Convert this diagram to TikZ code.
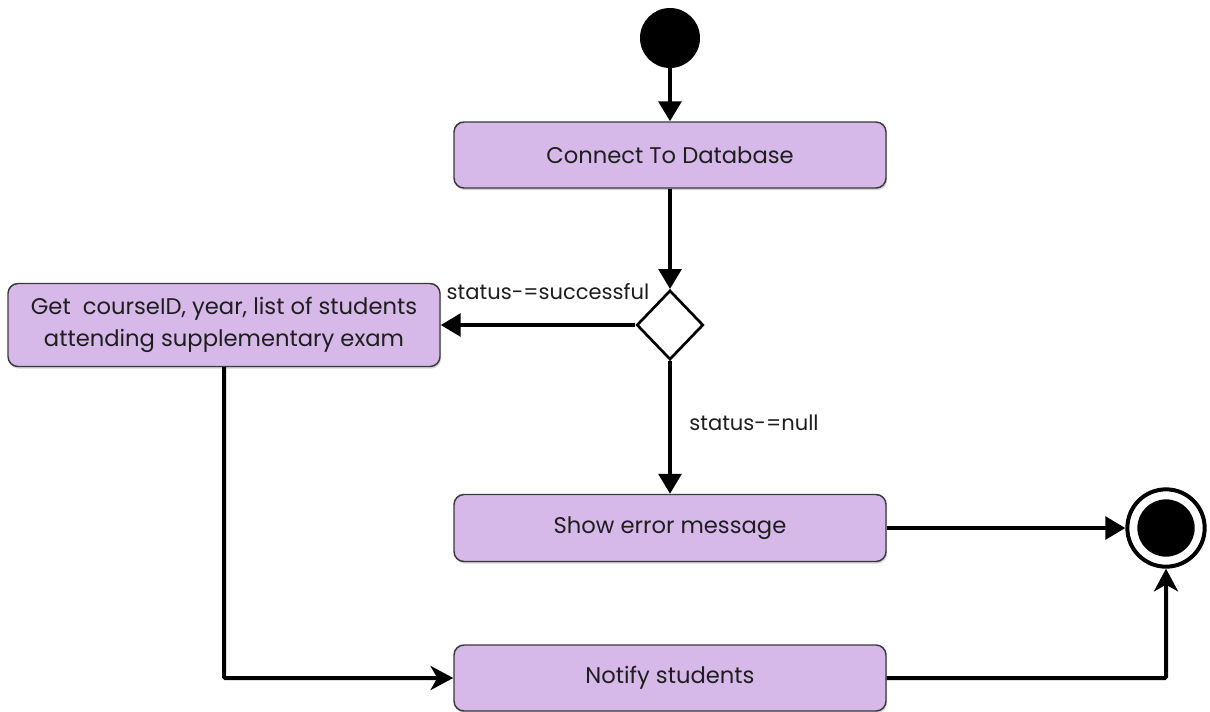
\documentclass[tikz,border=0pt]{standalone}
\usepackage{fontspec}
\setmainfont{Poppins}
\usepackage{tikz}
\usetikzlibrary{arrows.meta,positioning,shapes.geometric,shadows}
\definecolor{actLilac}{HTML}{D7B9E9}
\definecolor{actEdge}{HTML}{3A3A3A}
\definecolor{actInk}{HTML}{1E1E1E}
\tikzset{
  act/.style={draw=actEdge,line width=1.1pt,fill=actLilac,rounded corners=7.5pt,
    minimum width=324pt,minimum height=49.5pt,align=center,inner sep=3pt,
    text=actInk,font=\fontsize{17}{23.5}\selectfont,
    drop shadow={opacity=0.35,shadow xshift=0.8pt,shadow yshift=-1.6pt}},
  decide/.style={diamond,draw=black,line width=2pt,fill=white,inner sep=0pt,
    minimum width=50pt,minimum height=52pt,aspect=0.97},
  startdot/.style={circle,fill=black,inner sep=0pt,minimum size=45pt},
  endring/.style={circle,draw=black,line width=3pt,fill=white,inner sep=0pt,
    minimum size=58pt,drop shadow={opacity=0.3,shadow xshift=0.6pt,shadow yshift=-1pt}},
  flow/.style={-{Triangle[length=15pt,width=17pt]},line width=3pt,black},
  flowb/.style={-{Stealth[length=17pt,width=18pt,inset=5pt]},line width=3pt,black},
  guard/.style={text=actInk,font=\fontsize{15.8}{19}\selectfont}
}
\begin{document}
\begin{tikzpicture}[x=0.75pt,y=-0.75pt]
  \useasboundingbox (0,0) rectangle (1210,711);
  \node[startdot] (start) at (670,38) {};
  \node[act] (connect) at (670,155) {Connect To Database};
  \node[decide] (dec) at (670,325) {};
  \node[act,minimum height=62.25pt] (get) at (224,325)
       {Get~ courseID, year, list of students\\attending supplementary exam};
  \node[act,minimum height=50.25pt] (err) at (670,528) {Show error message};
  \node[act] (notify) at (670,678) {Notify students};
  \node[endring] (end) at (1166,528) {};
  \node[startdot,minimum size=43pt] (enddot) at (end) {};
  % transitions
  \draw[flow] (start) -- (connect);
  \draw[flow] (connect) -- (dec);
  \draw[flow] (dec.west) -- (get.east);
  \draw[flow] (dec.south) -- (err.north);
  \draw[flow] (err.east) -- (end.west);
  \draw[flowb,rounded corners=1pt] (get.south) |- (notify.west);
  \draw[flowb,rounded corners=1pt] (notify.east) -| (end.south);
  % guards
  \node[guard] (gOk) at (548,292) {status-=successful};
  \node[guard] (gNull) at (754,423) {status-=null};
\end{tikzpicture}
\end{document}
